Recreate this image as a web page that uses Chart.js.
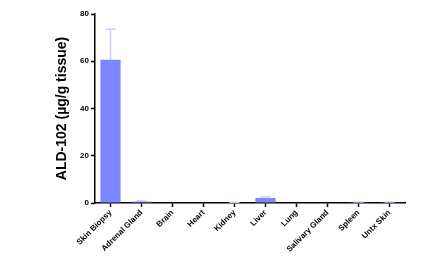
<!DOCTYPE html>
<html lang="en">
<head>
    <meta charset="UTF-8">
    <title>ALD-102 tissue distribution</title>
    <script src="https://cdn.jsdelivr.net/npm/chart.js"></script>
    <style>
        html, body {
            margin: 0;
            padding: 0;
            background: #fff;
        }
        #chartContainer {
            width: 448px;
            height: 266px;
        }
    </style>
</head>
<body>
    <div id="chartContainer">
        <canvas id="myChart" width="448" height="266"></canvas>
    </div>
    <script>
        const tissues = ['Skin Biopsy', 'Adrenal Gland', 'Brain', 'Heart', 'Kidney', 'Liver', 'Lung', 'Salivary Gland', 'Spleen', 'Untx Skin'];
        const meanValues = [60.6, 0.6, 0, 0, 0.2, 2.1, 0, 0, 0.3, 0.3];
        const errorValues = [12.9, 0.2, 0, 0, 0.1, 0.5, 0, 0, 0.1, 0.1];
        const yTicks = [0, 20, 40, 60, 80];

        // error bars (upper only), drawn from the scales
        const errorBars = {
            id: 'errorBars',
            beforeDatasetsDraw(chart) {
                const ctx = chart.ctx;
                const x = chart.scales.x;
                const y = chart.scales.y;
                ctx.save();
                ctx.strokeStyle = '#c9cdff';
                ctx.lineWidth = 1.5;
                meanValues.forEach((v, i) => {
                    if (!errorValues[i]) return;
                    const cx = x.getPixelForValue(i);
                    const top = y.getPixelForValue(v + errorValues[i]);
                    const base = y.getPixelForValue(v);
                    ctx.beginPath();
                    ctx.moveTo(cx, base);
                    ctx.lineTo(cx, top);
                    ctx.moveTo(cx - 5, top);
                    ctx.lineTo(cx + 5, top);
                    ctx.stroke();
                });
                ctx.restore();
            }
        };

        const ctx = document.getElementById('myChart').getContext('2d');
        new Chart(ctx, {
            type: 'bar',
            data: {
                labels: tissues,
                datasets: [{
                    data: meanValues,
                    backgroundColor: '#7b86ff',
                    borderColor: '#7b86ff',
                    borderWidth: 0,
                    barPercentage: 0.65,
                    categoryPercentage: 1
                }]
            },
            options: {
                responsive: false,
                animation: false,
                layout: {
                    padding: { left: 50, right: 43, top: 14, bottom: 0 }
                },
                plugins: {
                    legend: { display: false },
                    tooltip: { enabled: false }
                },
                scales: {
                    x: {
                        grid: {
                            offset: false,
                            drawOnChartArea: false,
                            drawTicks: true,
                            tickLength: 4,
                            tickColor: '#000',
                            tickWidth: 1.5
                        },
                        border: { color: '#000', width: 1.5 },
                        ticks: {
                            color: '#000',
                            font: { family: 'Liberation Sans', size: 8, weight: 'bold' },
                            minRotation: 45,
                            maxRotation: 45,
                            padding: 1,
                            autoSkip: false
                        },
                        afterFit(scale) { scale.height = 63; }
                    },
                    y: {
                        min: 0,
                        max: 80,
                        afterBuildTicks(scale) {
                            scale.ticks = yTicks.map(v => ({ value: v }));
                        },
                        grid: {
                            drawOnChartArea: false,
                            drawTicks: true,
                            tickLength: 4,
                            tickColor: '#000',
                            tickWidth: 1.5
                        },
                        border: { color: '#000', width: 1.5 },
                        ticks: {
                            color: '#000',
                            font: { family: 'Liberation Sans', size: 8, weight: 'bold' },
                            padding: 2
                        },
                        title: {
                            display: true,
                            text: 'ALD-102 (µg/g tissue)',
                            color: '#000',
                            font: { family: 'Liberation Sans', size: 14, weight: 'bold' },
                            padding: { top: 4, bottom: 0 }
                        },
                        afterFit(scale) { scale.width = 45; }
                    }
                }
            },
            plugins: [errorBars]
        });
    </script>
</body>
</html>
